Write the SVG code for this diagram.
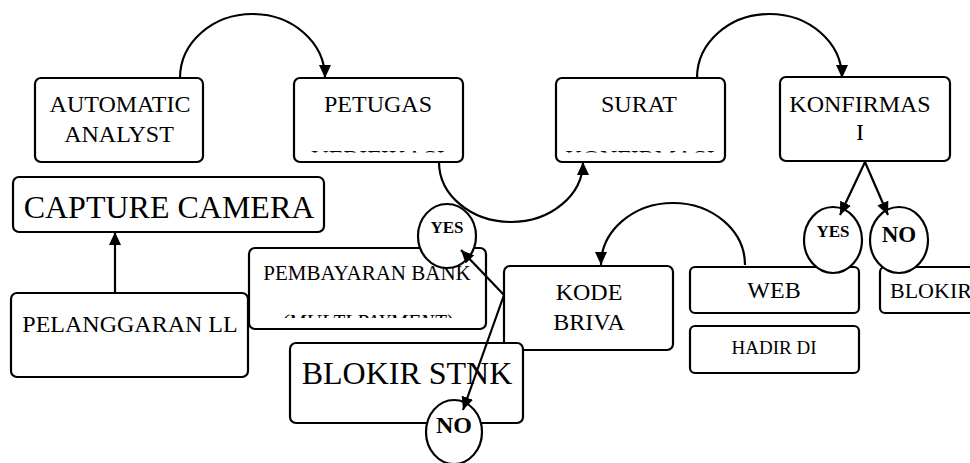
<svg xmlns="http://www.w3.org/2000/svg" width="970" height="463" viewBox="0 0 970 463">
<style>
.box{fill:#fff;stroke:#000;stroke-width:2.2}
.circ{fill:#fff;stroke:#000;stroke-width:2.2}
.t{font-family:"Liberation Serif","Times New Roman",serif;font-size:24px;fill:#000;text-anchor:middle}
.big{font-size:32px}
.b{font-weight:bold}
.con{fill:none;stroke:#000;stroke-width:2.2}
</style>
<defs>
<marker id="arr" markerUnits="userSpaceOnUse" markerWidth="13" markerHeight="12" refX="13" refY="6" orient="auto">
<path d="M0,0 L13,6 L0,12 z" fill="#000"/>
</marker>
<clipPath id="c1"><rect x="294" y="78" width="169" height="74.5"/></clipPath>
<clipPath id="c2"><rect x="556" y="78" width="169" height="74.5"/></clipPath>
<clipPath id="c3"><rect x="249" y="248" width="237" height="70"/></clipPath>
</defs>
<rect width="970" height="463" fill="#fff"/>
<g id="automatic-analyst">
<rect class="box" x="35" y="78" width="168" height="84" rx="6"/>
<text class="t" x="120" y="112">AUTOMATIC</text>
<text class="t" x="119" y="142">ANALYST</text>
</g>
<g id="petugas">
<rect class="box" x="294" y="78" width="169" height="84" rx="6"/>
<text class="t" x="378" y="112">PETUGAS</text>
<text class="t" x="378" y="166" clip-path="url(#c1)">VERIFIKASI</text>
</g>
<g id="surat">
<rect class="box" x="556" y="78" width="169" height="84" rx="6"/>
<text class="t" x="639" y="112">SURAT</text>
<text class="t" x="640" y="166" clip-path="url(#c2)">KONFIRMASI</text>
</g>
<g id="konfirmasi">
<rect class="box" x="780" y="77" width="170" height="84" rx="6"/>
<text class="t" x="860" y="112">KONFIRMAS</text>
<text class="t" x="860" y="140">I</text>
</g>
<g id="capture-camera">
<rect class="box" x="13" y="177" width="311" height="55" rx="6"/>
<text class="t big" x="169" y="218">CAPTURE CAMERA</text>
</g>
<g id="pelanggaran">
<rect class="box" x="11" y="293" width="237" height="84" rx="6"/>
<text class="t" x="130" y="332">PELANGGARAN LL</text>
</g>
<g id="pembayaran">
<rect class="box" x="249" y="248" width="237" height="81" rx="6"/>
<text class="t" x="367" y="280" style="font-size:21px">PEMBAYARAN BANK</text>
<text class="t" x="367" y="329" style="font-size:21px;font-style:italic" clip-path="url(#c3)">(MULTI PAYMENT)</text>
</g>
<g id="kode-briva">
<rect class="box" x="504" y="266" width="169" height="84" rx="6"/>
<text class="t" x="589" y="300">KODE</text>
<text class="t" x="589" y="330">BRIVA</text>
</g>
<g id="blokir-stnk">
<rect class="box" x="290" y="343" width="233" height="80" rx="6"/>
<text class="t big" x="407" y="384">BLOKIR STNK</text>
</g>
<g id="web">
<rect class="box" x="690" y="267" width="169" height="46" rx="5"/>
<text class="t" x="774" y="298">WEB</text>
</g>
<g id="hadir-di">
<rect class="box" x="690" y="326" width="169" height="47" rx="5"/>
<text class="t" x="774" y="354" style="font-size:19px">HADIR DI</text>
</g>
<g id="blokir">
<rect class="box" x="880" y="267" width="120" height="46" rx="5"/>
<text class="t" x="890" y="298" style="font-size:22px;text-anchor:start">BLOKIR</text>
</g>
<g id="yes-left">
<ellipse class="circ" cx="447" cy="236" rx="29" ry="32"/>
<text class="t b" x="447" y="233" style="font-size:17px">YES</text>
</g>
<g id="no-bottom">
<ellipse class="circ" cx="454" cy="432" rx="28" ry="32"/>
<text class="t b" x="454" y="433">NO</text>
</g>
<g id="yes-right">
<ellipse class="circ" cx="833" cy="240" rx="29" ry="33"/>
<text class="t b" x="833" y="237" style="font-size:17px">YES</text>
</g>
<g id="no-right">
<ellipse class="circ" cx="899" cy="240" rx="29" ry="33"/>
<text class="t b" x="899" y="242" style="font-size:23px">NO</text>
</g>
<g id="connectors">
<path class="con" d="M180,78 A72.5,64 0 0 1 325,78" marker-end="url(#arr)"/>
<path class="con" d="M439,162 A72,60 0 0 0 583,162" marker-end="url(#arr)"/>
<path class="con" d="M697,78 A72.5,64 0 0 1 842,78" marker-end="url(#arr)"/>
<path class="con" d="M745,265 A72,62 0 0 0 601,265" marker-end="url(#arr)"/>
<path class="con" d="M115,293 L115,232" marker-end="url(#arr)"/>
<path class="con" d="M865,162 L840,215" marker-end="url(#arr)"/>
<path class="con" d="M865,162 L888,215" marker-end="url(#arr)"/>
<path class="con" d="M504,295 L461,250" marker-end="url(#arr)"/>
<path class="con" d="M504,295 L463,410" marker-end="url(#arr)"/>
</g>
</svg>
